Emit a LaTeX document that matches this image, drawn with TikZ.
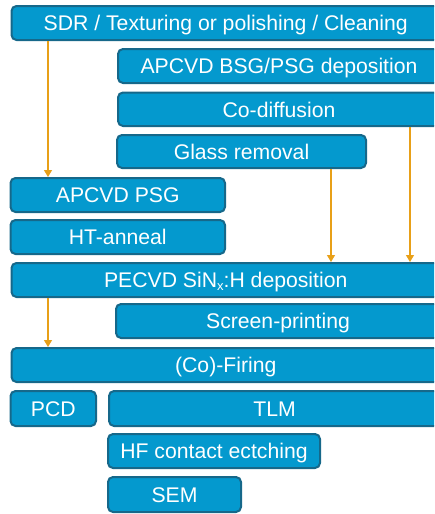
\documentclass[tikz,border=0pt]{standalone}
\usepackage{fontspec}
\setmainfont{Liberation Sans}
\usetikzlibrary{arrows.meta}
\definecolor{boxfill}{RGB}{4,153,206}
\definecolor{boxline}{RGB}{22,104,138}
\definecolor{arr}{RGB}{232,160,24}
\begin{document}
\begin{tikzpicture}[x=1pt,y=-1pt,
  stepbox/.style={draw=boxline,fill=boxfill,line width=2pt,rounded corners=5pt,
    inner sep=0pt,text=white,font=\fontsize{21.2}{22}\selectfont,anchor=center,
    text height=15.5pt,text depth=0pt},
  flow/.style={draw=arr,line width=1.3pt,-{Triangle[width=8pt,length=7pt]}}]
\useasboundingbox (0,0) rectangle (434,514);
\clip (0,0) rectangle (434,514);
\node[stepbox,minimum width=428.5pt,minimum height=34pt] (sdr) at (225.75,23) {SDR / Texturing or polishing / Cleaning};
\node[stepbox,minimum width=322pt,minimum height=34pt] (bsg) at (279,66) {APCVD BSG/PSG deposition};
\node[stepbox,minimum width=322pt,minimum height=33.5pt] (codiff) at (279,109.25) {Co-diffusion};
\node[stepbox,minimum width=249pt,minimum height=33pt] (glass) at (241.5,151.5) {Glass removal};
\node[stepbox,minimum width=214.5pt,minimum height=34pt] (psg) at (117.75,195) {APCVD PSG};
\node[stepbox,minimum width=214.5pt,minimum height=34pt] (ht) at (117.75,237) {HT-anneal};
\node[stepbox,minimum width=428.5pt,minimum height=34pt] (pecvd) at (225.75,280) {PECVD SiN{\fontsize{13}{13}\selectfont\raisebox{-3pt}{x}}:H deposition};
\node[stepbox,minimum width=324pt,minimum height=34pt] (screen) at (278,321) {Screen-printing};
\node[stepbox,minimum width=428.5pt,minimum height=34pt] (firing) at (225.75,365) {(Co)-Firing};
\node[stepbox,minimum width=85.5pt,minimum height=35pt] (pcd) at (53.25,408.5) {PCD};
\node[stepbox,minimum width=331pt,minimum height=35pt] (tlm) at (274.5,408.5) {TLM};
\node[stepbox,minimum width=212pt,minimum height=34pt] (hf) at (214,451) {HF contact ectching};
\node[stepbox,minimum width=133pt,minimum height=35pt] (sem) at (174.5,494.5) {SEM};
\coordinate (xa) at (48,0);
\coordinate (xb) at (331,0);
\coordinate (xc) at (410,0);
\draw[flow] (sdr.south -| xa) -- (psg.north -| xa);
\draw[flow] (glass.south -| xb) -- (pecvd.north -| xb);
\draw[flow] (codiff.south -| xc) -- (pecvd.north -| xc);
\draw[flow] (pecvd.south -| xa) -- (firing.north -| xa);
\end{tikzpicture}
\end{document}
